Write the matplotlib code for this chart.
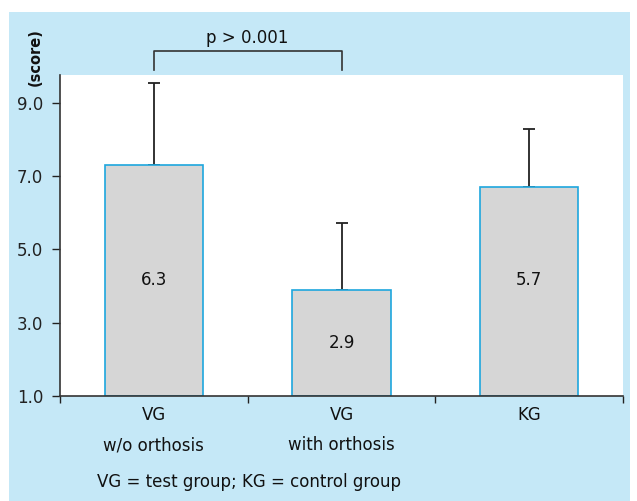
import matplotlib
matplotlib.use("Agg")
import matplotlib.pyplot as plt
from matplotlib.patches import Rectangle
from matplotlib.transforms import blended_transform_factory
import numpy as np

# ---- data ----
categories = ["VG\nw/o orthosis", "VG\nwith orthosis", "KG"]
means = [6.3, 2.9, 5.7]          # bar values (drawn from baseline 1.0)
sd = [2.22, 1.82, 1.58]          # upper error bars
yticks = [1.0, 3.0, 5.0, 7.0, 9.0]
footnote = "VG = test group; KG = control group"
sig_text = "p > 0.001"
ylabel = "(score)"

baseline = 1.0
bg = "#c5e8f7"
bar_fill = "#d6d6d6"
bar_edge = "#1ea7de"
dark = "#222222"
fs = 12

fig = plt.figure(figsize=(6.37, 5.01), dpi=100)
fig.patch.set_facecolor("white")
fig.add_artist(Rectangle((9/637, 0), (630-9)/637, (501-12)/501,
                         transform=fig.transFigure, facecolor=bg,
                         edgecolor="none", zorder=0))

ax = fig.add_axes([60/637, 105/501, (623-60)/637, (396-75)/501])
ax.set_facecolor("white")
ax.set_zorder(1)

x = np.arange(len(categories))
heights = np.array(means)
ax.bar(x, heights, width=0.525, bottom=baseline, color=bar_fill,
       edgecolor=bar_edge, linewidth=1.2, zorder=2)
tops = baseline + heights
ax.errorbar(x, tops, yerr=[np.zeros(len(sd)), sd], fmt="none",
            ecolor=dark, elinewidth=1.3, capsize=4.5, capthick=1.3, zorder=1)

label_y = np.where(heights > 4, 4.15, baseline + heights / 2)
for xi, m, ly in zip(x, means, label_y):
    ax.text(xi, ly, f"{m:.1f}", ha="center", va="center", fontsize=fs,
            color="#111111", zorder=3)

ax.set_xlim(-0.5, len(categories) - 0.5)
ax.set_ylim(baseline, 9.75)
ax.set_xticks(np.arange(len(categories) + 1) - 0.5)
ax.set_xticklabels([])
ax.set_yticks(yticks)
ax.set_yticklabels([f"{t:.1f}" for t in yticks], fontsize=fs)
ax.tick_params(axis="y", direction="out", length=6, width=1.0, pad=6,
               colors=dark)
ax.tick_params(axis="x", direction="out", length=5, width=1.0, colors=dark)
for s in ["top", "right"]:
    ax.spines[s].set_visible(False)
for s in ["left", "bottom"]:
    ax.spines[s].set_color("#333333")
    ax.spines[s].set_linewidth(1.2)

# category labels
trans = blended_transform_factory(ax.transData, ax.transAxes)
for xi, c in zip(x, categories):
    lines = c.split("\n")
    ax.annotate(lines[0], xy=(xi, 0), xycoords=trans, xytext=(0, -14),
                textcoords="offset points", ha="center", va="center",
                fontsize=fs, color="#111111", annotation_clip=False)
    if len(lines) > 1:
        ax.annotate(lines[1], xy=(xi, 0), xycoords=trans, xytext=(0, -35.5),
                    textcoords="offset points", ha="center", va="center",
                    fontsize=fs, color="#111111", annotation_clip=False)

fig.text(97/637, 1 - 482/501, footnote, ha="left", va="center",
         fontsize=fs, color="#111111")

# significance bracket
ax.plot([0, 0, 1, 1], [9.88, 10.41, 10.41, 9.88], color="#333333",
        lw=1.2, clip_on=False, zorder=3)
ax.text(0.5, 10.76, sig_text, ha="center", va="center", fontsize=fs,
        color="#111111", clip_on=False)

fig.text(35/637, 1 - 57/501, ylabel, rotation=90, ha="center", va="center",
         fontsize=10.5, fontweight="bold", color="#111111")

fig.savefig("out.png", dpi=100, facecolor=fig.get_facecolor())
